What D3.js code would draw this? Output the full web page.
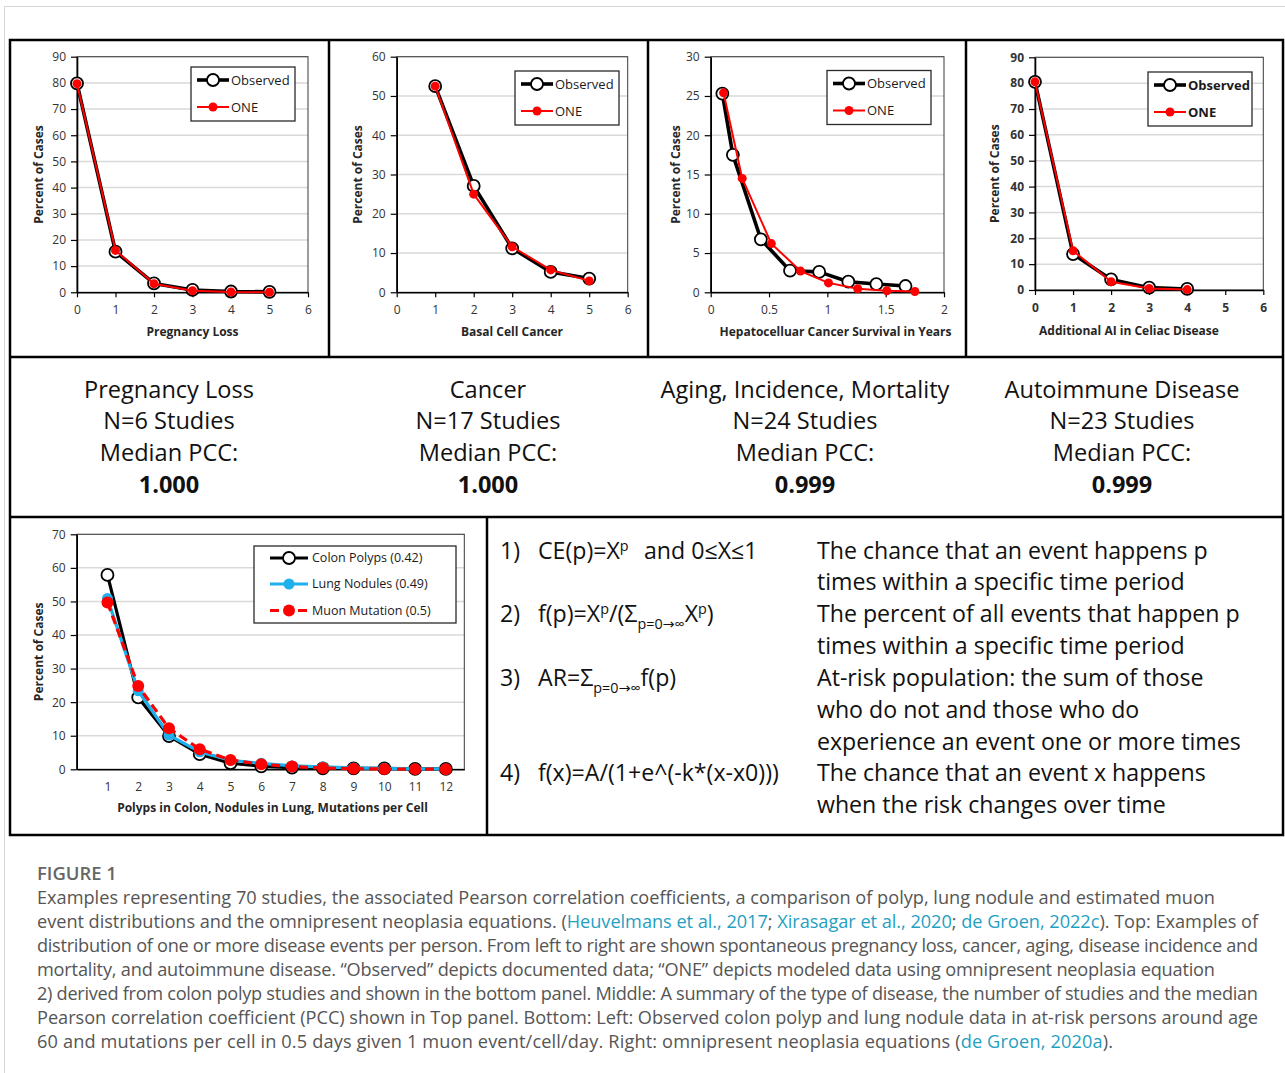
<!DOCTYPE html>
<html><head><meta charset="utf-8">
<script src="https://cdn.jsdelivr.net/npm/d3@7"></script>
<style>body{margin:0;background:#fff}svg{display:block}</style>
</head><body>
<svg id="c" width="1285" height="1073"></svg>
<script>
// ---------------- DATA ----------------
const pregX = [0, 1, 2, 3, 4, 5];
const pregObserved = [79.8, 15.5, 3.4, 0.9, 0.3, 0.2];
const pregONE = [79.7, 16.0, 3.3, 0.6, 0.1, 0.03];
const pregXTicks = [0, 1, 2, 3, 4, 5, 6];
const pregYTicks = [0, 10, 20, 30, 40, 50, 60, 70, 80, 90];

const basalX = [1, 2, 3, 4, 5];
const basalObserved = [52.5, 27.1, 11.2, 5.2, 3.5];
const basalONE = [52.5, 25.0, 11.6, 5.7, 2.9];
const basalXTicks = [0, 1, 2, 3, 4, 5, 6];
const basalYTicks = [0, 10, 20, 30, 40, 50, 60];

const hccObservedX = [0.1, 0.19, 0.43, 0.68, 0.93, 1.18, 1.42, 1.67];
const hccObserved = [25.3, 17.5, 6.75, 2.75, 2.6, 1.35, 1.05, 0.8];
const hccOneX = [0.11, 0.27, 0.52, 0.77, 1.01, 1.26, 1.51, 1.75];
const hccONE = [25.4, 14.5, 6.2, 2.7, 1.2, 0.45, 0.2, 0.1];
const hccXTicks = [0, 0.5, 1, 1.5, 2];
const hccYTicks = [0, 5, 10, 15, 20, 25, 30];

const celiacX = [0, 1, 2, 3, 4];
const celiacObserved = [80.5, 13.9, 4.1, 0.9, 0.4];
const celiacONE = [80.5, 15.2, 3.2, 0.6, 0.15];
const celiacXTicks = [0, 1, 2, 3, 4, 5, 6];
const celiacYTicks = [0, 10, 20, 30, 40, 50, 60, 70, 80, 90];

const countX = [1, 2, 3, 4, 5, 6, 7, 8, 9, 10, 11, 12];
const colonPolyps = [57.9, 21.4, 9.9, 4.5, 1.8, 0.9, 0.5, 0.3, 0.3, 0.3, 0.1, 0.1];
const lungNodules = [50.9, 23.4, 10.2, 5.2, 2.7, 1.8, 1.0, 0.7, 0.4, 0.3, 0.1, 0.1];
const muonMutation = [49.7, 24.8, 12.2, 6.0, 2.8, 1.5, 0.8, 0.4, 0.2, 0.1, 0.05, 0.02];
const countXTicks = [1, 2, 3, 4, 5, 6, 7, 8, 9, 10, 11, 12];
const countYTicks = [0, 10, 20, 30, 40, 50, 60, 70];

const topLegend = ["Observed", "ONE"];
const bottomLegend = ["Colon Polyps (0.42)", "Lung Nodules (0.49)", "Muon Mutation  (0.5)"];

const diseaseNames = ["Pregnancy Loss", "Cancer", "Aging, Incidence, Mortality", "Autoimmune Disease"];
const studyCounts = ["N=6 Studies", "N=17 Studies", "N=24 Studies", "N=23 Studies"];
const medianLabel = "Median PCC:";
const medianPCC = ["1.000", "1.000", "0.999", "0.999"];

const descLines = [
  "The chance that an event happens p",
  "times within a specific time period",
  "The percent of all events that happen p",
  "times within a specific time period",
  "At-risk population: the sum of those",
  "who do not and those who do",
  "experience an event one or more times",
  "The chance that an event x happens",
  "when the risk changes over time"
];

// ---------------- SETUP ----------------
const FONT = "'Open Sans', 'DejaVu Sans', sans-serif";
const svg = d3.select("#c");
const RED = "#ff0000", BLUE = "#1db0ec";

// page border
svg.append("rect").attr("x", 4.5).attr("y", 6.5).attr("width", 1300).attr("height", 1100)
  .attr("fill", "none").attr("stroke", "#d6d6d6").attr("stroke-width", 1);

// ---------------- CHART FUNCTION ----------------
function drawChart(o) {
  const g = svg.append("g");
  const x = d3.scaleLinear().domain(o.xDomain).range([o.left, o.right]);
  const y = d3.scaleLinear().domain(o.yDomain).range([o.bottom, o.top]);
  const fw = o.bold ? "bold" : "normal";

  g.selectAll("line.grid").data(o.yTicks.filter(t => t > 0)).join("line")
    .attr("class", "grid")
    .attr("x1", o.left).attr("x2", o.right)
    .attr("y1", d => y(d)).attr("y2", d => y(d))
    .attr("stroke", "#d9d9d9").attr("stroke-width", 1.5);

  g.append("rect").attr("x", o.left).attr("y", o.top)
    .attr("width", o.right - o.left).attr("height", o.bottom - o.top)
    .attr("fill", "none").attr("stroke", "#3a3a3a").attr("stroke-width", 1);

  const fmt = d => String(d);
  const ay = g.append("g").attr("transform", `translate(${o.left},0)`)
    .call(d3.axisLeft(y).tickValues(o.yTicks).tickFormat(fmt).tickSize(6).tickPadding(5).tickSizeOuter(0));
  const ax = g.append("g").attr("transform", `translate(0,${o.bottom})`)
    .call(d3.axisBottom(x).tickValues(o.xTicks).tickFormat(fmt).tickSize(o.xTickSize).tickPadding(o.xTickPad).tickSizeOuter(0));
  [ay, ax].forEach(a => {
    a.select(".domain").attr("stroke", "#000").attr("stroke-width", 1.6);
    a.selectAll(".tick line").attr("stroke", "#000").attr("stroke-width", 1.2);
    a.selectAll("text").attr("font-family", FONT).attr("font-size", 12)
      .attr("font-weight", fw).attr("fill", "#333");
  });

  // series
  o.series.forEach(s => {
    const pts = s.xs.map((v, i) => [v, s.ys[i]]);
    g.append("path").datum(pts)
      .attr("d", d3.line().x(d => x(d[0])).y(d => y(d[1])))
      .attr("fill", "none").attr("stroke", s.color).attr("stroke-width", s.width)
      .attr("stroke-dasharray", s.dash || null).attr("stroke-linejoin", "round");
    g.selectAll(null).data(pts).join("circle")
      .attr("cx", d => x(d[0])).attr("cy", d => y(d[1])).attr("r", s.r)
      .attr("fill", s.fill).attr("stroke", s.mstroke).attr("stroke-width", s.msw);
  });

  // axis titles
  g.append("text").attr("transform", `translate(${o.left - o.yTitleOff},${(o.top + o.bottom) / 2}) rotate(-90)`)
    .attr("text-anchor", "middle").attr("dy", "0.35em")
    .attr("font-family", FONT).attr("font-size", 12).attr("font-weight", "bold").attr("fill", "#262626")
    .text("Percent of Cases");
  g.append("text").attr("x", o.xTitleX).attr("y", o.xTitleY).attr("dy", "0.35em")
    .attr("text-anchor", "middle")
    .attr("font-family", FONT).attr("font-size", 12).attr("font-weight", "bold").attr("fill", "#262626")
    .text(o.xTitle);

  // legend
  const L = o.legend;
  g.append("rect").attr("x", L.x).attr("y", L.y).attr("width", L.w).attr("height", L.h)
    .attr("fill", "#fff").attr("stroke", "#2a2a2a").attr("stroke-width", 1.3);
  o.series.forEach((s, i) => {
    const ry = L.y + L.rows[i];
    g.append("line").attr("x1", L.x + L.l0).attr("x2", L.x + L.l1).attr("y1", ry).attr("y2", ry)
      .attr("stroke", s.color).attr("stroke-width", s.width).attr("stroke-dasharray", s.dash || null);
    g.append("circle").attr("cx", L.x + L.m).attr("cy", ry).attr("r", s.r)
      .attr("fill", s.fill).attr("stroke", s.mstroke).attr("stroke-width", s.msw);
    g.append("text").attr("x", L.x + L.t).attr("y", ry).attr("dy", "0.35em")
      .attr("font-family", FONT).attr("font-size", L.fs).attr("font-weight", fw).attr("fill", "#1a1a1a")
      .text(L.labels[i]);
  });
}

function obsSeries(xs, ys) {
  return { xs, ys, color: "#000", width: 3.6, r: 6, fill: "#fff", mstroke: "#000", msw: 1.8 };
}
function oneSeries(xs, ys) {
  return { xs, ys, color: RED, width: 2, r: 4.5, fill: RED, mstroke: RED, msw: 0 };
}
function topLegendBox(x, y) {
  return { x, y, w: 104, h: 54, rows: [13, 40], l0: 6, l1: 38, m: 22, t: 40, fs: 13, labels: topLegend };
}

drawChart({
  left: 77, right: 308, top: 56.7, bottom: 292.3, xDomain: [0, 6], yDomain: [0, 90],
  xTicks: pregXTicks, yTicks: pregYTicks, xTickSize: 5, xTickPad: 8,
  series: [obsSeries(pregX, pregObserved), oneSeries(pregX, pregONE)],
  yTitleOff: 38, xTitle: "Pregnancy Loss", xTitleX: 192.5, xTitleY: 331.5,
  legend: topLegendBox(191, 67)
});
drawChart({
  left: 396.7, right: 627.7, top: 56.7, bottom: 292.3, xDomain: [0, 6], yDomain: [0, 60],
  xTicks: basalXTicks, yTicks: basalYTicks, xTickSize: 5, xTickPad: 8,
  series: [obsSeries(basalX, basalObserved), oneSeries(basalX, basalONE)],
  yTitleOff: 38.5, xTitle: "Basal Cell Cancer", xTitleX: 512, xTitleY: 331.5,
  legend: topLegendBox(515, 71)
});
drawChart({
  left: 710.7, right: 944, top: 56.7, bottom: 292.3, xDomain: [0, 2], yDomain: [0, 30],
  xTicks: hccXTicks, yTicks: hccYTicks, xTickSize: 5, xTickPad: 8,
  series: [obsSeries(hccObservedX, hccObserved), oneSeries(hccOneX, hccONE)],
  yTitleOff: 35, xTitle: "Hepatocelluar Cancer Survival in Years", xTitleX: 835.5, xTitleY: 331.5,
  legend: topLegendBox(827, 70.5)
});
drawChart({
  left: 1035, right: 1263.3, top: 57.3, bottom: 290, xDomain: [0, 6], yDomain: [0, 90],
  xTicks: celiacXTicks, yTicks: celiacYTicks, xTickSize: 5, xTickPad: 8, bold: true,
  series: [obsSeries(celiacX, celiacObserved), oneSeries(celiacX, celiacONE)],
  yTitleOff: 40, xTitle: "Additional AI in Celiac Disease", xTitleX: 1129, xTitleY: 331,
  legend: topLegendBox(1148, 72)
});
drawChart({
  left: 76.7, right: 464.3, top: 534.3, bottom: 769.3, xDomain: [0, 12.6], yDomain: [0, 70],
  xTicks: countXTicks, yTicks: countYTicks, xTickSize: 0, xTickPad: 13,
  series: [
    { xs: countX, ys: colonPolyps, color: "#000", width: 3.2, r: 6, fill: "#fff", mstroke: "#000", msw: 1.8 },
    { xs: countX, ys: lungNodules, color: BLUE, width: 3.2, r: 5.5, fill: BLUE, mstroke: BLUE, msw: 0 },
    { xs: countX, ys: muonMutation, color: RED, width: 3.2, dash: "9,5", r: 6, fill: RED, mstroke: RED, msw: 0 }
  ],
  yTitleOff: 38, xTitle: "Polyps in Colon, Nodules in Lung, Mutations per Cell", xTitleX: 272.5, xTitleY: 808,
  legend: { x: 254, y: 546, w: 202, h: 77, rows: [12, 38, 64.5], l0: 16, l1: 54, m: 35, t: 58, fs: 12.5, labels: bottomLegend }
});

// ---------------- FRAME ----------------
const frame = svg.append("g").attr("stroke", "#000").attr("stroke-width", 2.5).attr("fill", "none");
frame.append("rect").attr("x", 10).attr("y", 40).attr("width", 1273).attr("height", 795);
[[10, 357, 1283, 357], [10, 517, 1283, 517], [329, 40, 329, 357], [648, 40, 648, 357], [966, 40, 966, 357], [487, 517, 487, 835]]
  .forEach(l => frame.append("line").attr("x1", l[0]).attr("y1", l[1]).attr("x2", l[2]).attr("y2", l[3]));

// ---------------- HELPERS ----------------
function fitSize(txt, weight, target, base) {
  const t = svg.append("text").attr("font-family", FONT).attr("font-size", base).attr("font-weight", weight).text(txt);
  const w = t.node().getComputedTextLength();
  t.remove();
  return base * target / w;
}

// ---------------- MIDDLE SUMMARY ----------------
const midSize = fitSize("Aging, Incidence, Mortality", "normal", 289, 24);
const midX = [169, 488, 805, 1122];
const midRows = [390, 421, 453, 485];
diseaseNames.forEach((name, i) => {
  const lines = [name, studyCounts[i], medianLabel, medianPCC[i]];
  lines.forEach((s, j) => {
    svg.append("text").attr("x", midX[i]).attr("y", midRows[j]).attr("dy", "0.36em")
      .attr("text-anchor", "middle").attr("font-family", FONT).attr("font-size", midSize)
      .attr("font-weight", j === 3 ? "bold" : "normal").attr("fill", "#111").text(s);
  });
});

// ---------------- EQUATIONS ----------------
const eqSize = fitSize("The percent of all events that happen p", "normal", 423, 23);
const rowY = [551, 582, 614, 646, 678, 710, 742, 773, 805];
descLines.forEach((s, i) => {
  svg.append("text").attr("x", 817).attr("y", rowY[i]).attr("dy", "0.36em")
    .attr("font-family", FONT).attr("font-size", eqSize).attr("fill", "#111").text(s);
});
const sub = eqSize * 0.62;
function eqText(num, rowIndex, parts) {
  svg.append("text").attr("x", 500).attr("y", rowY[rowIndex]).attr("dy", "0.36em")
    .attr("font-family", FONT).attr("font-size", eqSize).attr("fill", "#111").text(num);
  const t = svg.append("text").attr("x", 538).attr("y", rowY[rowIndex] + eqSize * 0.36)
    .attr("font-family", FONT).attr("font-size", eqSize).attr("fill", "#111");
  let shift = 0;
  parts.forEach(p => {
    const target = p.sup ? -eqSize * 0.38 : p.sub ? eqSize * 0.28 : 0;
    t.append("tspan").attr("dy", target - shift)
      .attr("font-size", (p.sup || p.sub) ? sub : eqSize).text(p.t);
    shift = target;
  });
}
eqText("1)", 0, [{ t: "CE(p)=X" }, { t: "p", sup: 1 }]);
svg.append("text").attr("x", 644).attr("y", rowY[0]).attr("dy", "0.36em")
  .attr("font-family", FONT).attr("font-size", eqSize).attr("fill", "#111").text("and 0≤X≤1");
eqText("2)", 2, [{ t: "f(p)=X" }, { t: "p", sup: 1 }, { t: "/(Σ" }, { t: "p=0→∞", sub: 1 }, { t: "X" }, { t: "p", sup: 1 }, { t: ")" }]);
eqText("3)", 4, [{ t: "AR=Σ" }, { t: "p=0→∞", sub: 1 }, { t: "f(p)" }]);
eqText("4)", 7, [{ t: "f(x)=A/(1+e^(-k*(x-x0)))" }]);

// ---------------- CAPTION ----------------
const LINK = "#1f9fc1", CAP = "#555";
svg.append("text").attr("x", 37).attr("y", 873).attr("dy", "0.36em")
  .attr("font-family", FONT).attr("font-size", fitSize("FIGURE 1", "600", 80, 17)).attr("font-weight", "600")
  .attr("fill", "#666").text("FIGURE 1");
const captionLines = [
  [["Examples representing 70 studies, the associated Pearson correlation coefficients, a comparison of polyp, lung nodule and estimated muon"]],
  [["event distributions and the omnipresent neoplasia equations. ("], ["Heuvelmans et al., 2017", 1], ["; "], ["Xirasagar et al., 2020", 1], ["; "], ["de Groen, 2022c", 1], ["). Top: Examples of"]],
  [["distribution of one or more disease events per person. From left to right are shown spontaneous pregnancy loss, cancer, aging, disease incidence and"]],
  [["mortality, and autoimmune disease. “Observed” depicts documented data; “ONE” depicts modeled data using omnipresent neoplasia equation"]],
  [["2) derived from colon polyp studies and shown in the bottom panel. Middle: A summary of the type of disease, the number of studies and the median"]],
  [["Pearson correlation coefficient (PCC) shown in Top panel. Bottom: Left: Observed colon polyp and lung nodule data in at-risk persons around age"]],
  [["60 and mutations per cell in 0.5 days given 1 muon event/cell/day. Right: omnipresent neoplasia equations ("], ["de Groen, 2020a", 1], [")."]]
];
const capEnds = [1215, 1258, 1258, 1215, 1258, 1258, 1113];
const capSize = fitSize(captionLines[0][0][0], "normal", 1178, 17);
captionLines.forEach((segs, i) => {
  const t = svg.append("text").attr("x", 37).attr("y", 897 + i * 24).attr("dy", "0.36em")
    .attr("font-family", FONT).attr("font-size", capSize).attr("fill", CAP);
  segs.forEach(s => t.append("tspan").attr("fill", s[1] ? LINK : CAP).text(s[0]));
  const w = t.node().getComputedTextLength();
  const n = segs.map(s => s[0]).join("").length;
  t.attr("letter-spacing", ((capEnds[i] - 37) - w) / (n - 1));
});
</script>
</body></html>
